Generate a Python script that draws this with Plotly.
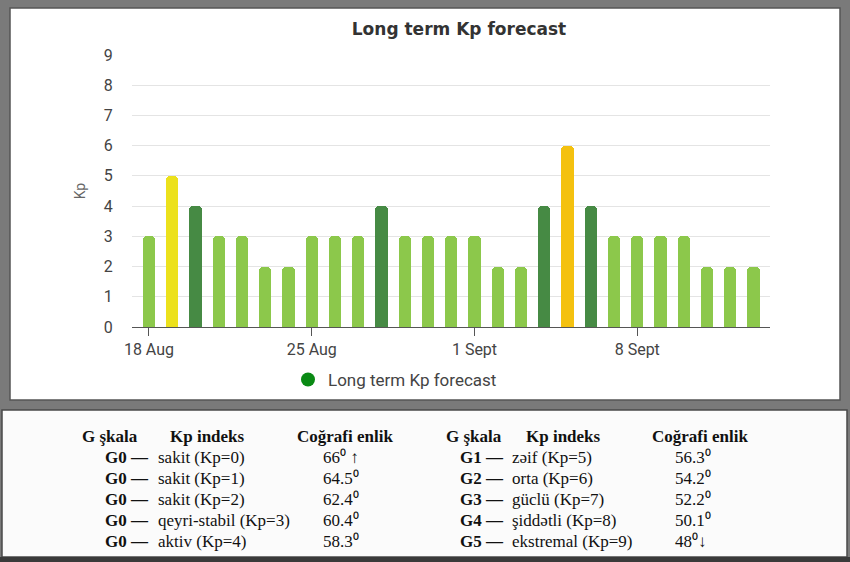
import plotly.graph_objects as go
import pandas as pd

# daily Kp forecast
dates = pd.date_range("2024-08-18", periods=27, freq="D")
kp = [3, 5, 4, 3, 3, 2, 2, 3, 3, 3, 4, 3, 3, 3, 3, 2, 2, 4, 6, 4, 3, 3, 3, 3, 2, 2, 2]
tick_dates = ["2024-08-18", "2024-08-25", "2024-09-01", "2024-09-08"]
tick_labels = ["18 Aug", "25 Aug", "1 Sept", "8 Sept"]

# G scale table
g_left = ["G0", "G0", "G0", "G0", "G0"]
desc_left = ["sakit (Kp=0)", "sakit (Kp=1)", "sakit (Kp=2)", "qeyri-stabil (Kp=3)", "aktiv (Kp=4)"]
lat_left = ["66⁰ ↑", "64.5⁰", "62.4⁰", "60.4⁰", "58.3⁰"]
g_right = ["G1", "G2", "G3", "G4", "G5"]
desc_right = ["zəif (Kp=5)", "orta (Kp=6)", "güclü (Kp=7)", "şiddətli (Kp=8)", "ekstremal (Kp=9)"]
lat_right = ["56.3⁰", "54.2⁰", "52.2⁰", "50.1⁰", "48⁰↓"]
headers = ["G şkala", "Kp indeks", "Coğrafi enlik"]

kp_colors = {2: "#8cc84b", 3: "#8cc84b", 4: "#468a44", 5: "#ece11c", 6: "#f4c10f"}

W, H = 850, 562
L, R, T, B = 132, 80, 55, 235


def px(x):
    return (x - L) / (W - L - R)


def py(y):
    return (H - B - y) / (H - T - B)


fig = go.Figure()
fig.add_trace(go.Bar(
    x=dates, y=kp,
    marker=dict(color=[kp_colors[v] for v in kp], cornerradius=4, line_width=0),
    width=0.52 * 86400000,
    showlegend=False,
))
fig.add_trace(go.Scatter(
    x=[None], y=[None], mode="markers",
    marker=dict(color="#0a8a14", size=14, symbol="circle"),
    name="Long term Kp forecast",
))

shapes = [
    # upper white panel
    dict(type="rect", xref="paper", yref="paper", x0=px(10), x1=px(840), y0=py(400), y1=py(8),
         fillcolor="white", line=dict(color="#555555", width=1.5), layer="below"),
    # lower table panel
    dict(type="rect", xref="paper", yref="paper", x0=px(2), x1=px(847), y0=py(557), y1=py(410),
         fillcolor="#fbfbfb", line=dict(color="#4a4a4a", width=1.5), layer="below"),
    dict(type="rect", xref="paper", yref="paper", x0=px(0), x1=px(850), y0=py(562), y1=py(557),
         fillcolor="#3a3a3a", line_width=0, layer="below"),
]

annotations = []
tfont = dict(family="Liberation Serif", size=17, color="#111111")
row_y = [457, 478, 499, 520.5, 541.5]
for gx, kx, lx in [(80, 168, 295), (444, 524, 650)]:
    for txt, x in zip(headers, [gx, kx, lx]):
        annotations.append(dict(x=px(x), y=py(436), xref="paper", yref="paper",
                                text="<b>%s</b>" % txt, showarrow=False,
                                xanchor="left", yanchor="middle", font=tfont))

cols = [
    (g_left, desc_left, lat_left, 103, 156, 321),
    (g_right, desc_right, lat_right, 458, 510, 673),
]
for g, desc, lat, gx, dx, lx in cols:
    for i in range(5):
        annotations.append(dict(x=px(gx), y=py(row_y[i]), xref="paper", yref="paper",
                                text="<b>%s —</b>" % g[i], showarrow=False,
                                xanchor="left", yanchor="middle", font=tfont))
        annotations.append(dict(x=px(dx), y=py(row_y[i]), xref="paper", yref="paper",
                                text=desc[i], showarrow=False,
                                xanchor="left", yanchor="middle", font=tfont))
        annotations.append(dict(x=px(lx), y=py(row_y[i]), xref="paper", yref="paper",
                                text=lat[i], showarrow=False,
                                xanchor="left", yanchor="middle", font=tfont))

start = pd.Timestamp("2024-08-18") - pd.Timedelta(hours=17.5)
end = pd.Timestamp("2024-09-13") + pd.Timedelta(hours=17)

fig.update_layout(
    width=W, height=H,
    margin=dict(l=L, r=R, t=T, b=B),
    paper_bgcolor="#7a7a7a",
    plot_bgcolor="white",
    title=dict(text="<b>Long term Kp forecast</b>", x=459 / W, xanchor="center",
               y=1 - 29 / H, yanchor="middle",
               font=dict(family="DejaVu Sans", size=17, color="#333333")),
    bargap=0,
    showlegend=True,
    legend=dict(orientation="h", x=px(288), xanchor="left", y=py(380), yanchor="middle",
                bgcolor="rgba(0,0,0,0)", font=dict(family="Roboto", size=17, color="#444444")),
    shapes=shapes,
    annotations=annotations,
)
fig.update_xaxes(
    type="date", range=[start, end],
    tickvals=tick_dates, ticktext=tick_labels,
    showgrid=False, showline=True, linecolor="#555555", linewidth=1.3,
    ticks="outside", ticklen=8, tickcolor="#555555", tickwidth=1.3,
    tickfont=dict(family="Roboto", size=16, color="#444444"),
)
fig.update_yaxes(
    range=[0, 9], dtick=1, showgrid=True, gridcolor="#e4e4e4", gridwidth=1,
    zeroline=False, ticks="outside", ticklen=15, tickcolor="rgba(0,0,0,0)",
    tickfont=dict(family="Roboto", size=16, color="#444444"),
    title=dict(text="Kp", standoff=14, font=dict(family="Roboto", size=14, color="#666666")),
)

# the page's default body margin would shift the chart by 8px
fig.write_html("out.html", config={"displayModeBar": False},
               post_script="document.body.style.margin='0';")
